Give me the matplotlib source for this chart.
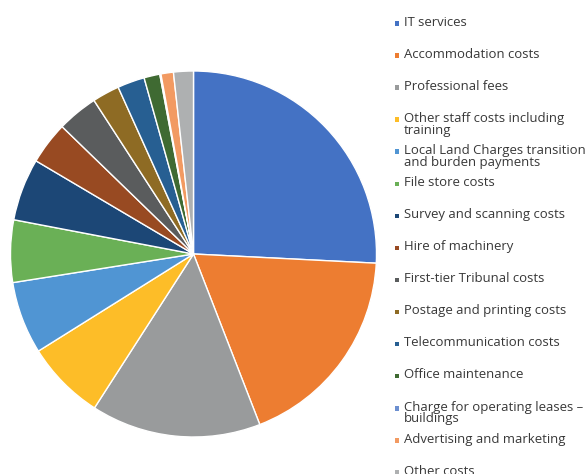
import matplotlib.pyplot as plt
from matplotlib.patches import Rectangle

categories = [
    'IT services',
    'Accommodation costs',
    'Professional fees',
    'Other staff costs including\ntraining',
    'Local Land Charges transition\nand burden payments',
    'File store costs',
    'Survey and scanning costs',
    'Hire of machinery',
    'First-tier Tribunal costs',
    'Postage and printing costs',
    'Telecommunication costs',
    'Office maintenance',
    'Charge for operating leases \u2013\nbuildings',
    'Advertising and marketing',
    'Other costs',
]
shares = [25.8, 18.3, 15.0, 7.0, 6.4, 5.5, 5.5, 3.75, 3.6, 2.4, 2.4, 1.4,
          0.1, 1.1, 1.75]
colors = ['#4472C4', '#ED7D31', '#999B9C', '#FDBD28', '#5095D3', '#6AB056',
          '#1C4776', '#984A22', '#5A5C5D', '#8E6B24', '#275F92', '#3F6A32',
          '#6C8FD0', '#F29A62', '#AEB0B1']

W, H = 588, 474
fig = plt.figure(figsize=(W / 100, H / 100), dpi=100)

# pie centred at (193.5, 254) px, radius 183 px
cx, cy, r = 193.5, 254, 183
ax = fig.add_axes([(cx - r) / W, (H - cy - r) / H, 2 * r / W, 2 * r / H])
ax.pie(shares, colors=colors, startangle=90, counterclock=False,
       wedgeprops=dict(edgecolor='white', linewidth=1.0))
ax.set_xlim(-1, 1)
ax.set_ylim(-1, 1)
ax.axis('off')

# legend in fixed slots
slot0, step = 23.5, 32.07
for i, (lab, col) in enumerate(zip(categories, colors)):
    y = slot0 + i * step
    fig.add_artist(Rectangle((394.5 / W, 1 - (y + 2.2) / H), 4.5 / W, 4.5 / H,
                             transform=fig.transFigure, facecolor=col,
                             edgecolor='none'))
    fig.text(404 / W, 1 - (y - 7.8) / H, lab, family='Open Sans', fontsize=9.45,
             color='#383838', va='top', ha='left', linespacing=0.88)

fig.savefig('out.png', dpi=100)
